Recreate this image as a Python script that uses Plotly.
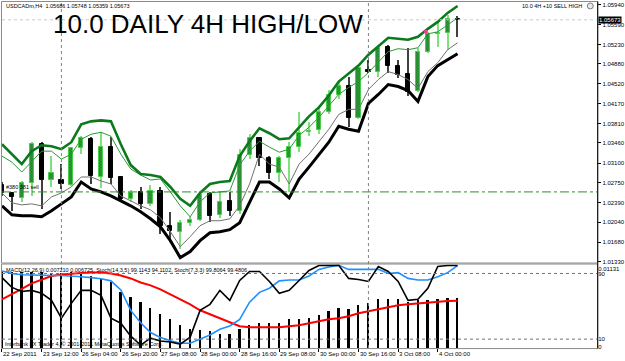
import plotly.graph_objects as go

# ---------------- data ----------------
tick_labels = ["22 Sep 2011", "23 Sep 12:00", "26 Sep 04:00", "26 Sep 20:00",
               "27 Sep 08:00", "28 Sep 00:00", "28 Sep 16:00", "29 Sep 08:00",
               "30 Sep 00:00", "30 Sep 16:00", "3 Oct 08:00", "4 Oct 00:00"]
tick_bars = [0, 4, 8, 12, 16, 20, 24, 28, 32, 36, 40, 44]

opens = [1.02706, 1.02563, 1.02474, 1.02742, 1.03438, 1.02795, 1.02795, 1.02706, 1.03367, 1.03528,
         1.02849, 1.03385, 1.02849, 1.02456, 1.02581, 1.02366, 1.02599, 1.01973, 1.01866, 1.02027,
         1.02080, 1.02545, 1.02170, 1.02420, 1.02241, 1.03242, 1.03546, 1.03188, 1.02920, 1.03188,
         1.03385, 1.03653, 1.03688, 1.04010, 1.04314, 1.04492, 1.03903, 1.04778, 1.04743, 1.05189,
         1.04850, 1.04707, 1.04403, 1.05100, 1.05422, 1.05439, 1.05686]
highs = [1.02759, 1.02581, 1.02777, 1.03474, 1.03474, 1.03224, 1.03081, 1.03385, 1.03581, 1.03563,
         1.03653, 1.03563, 1.02867, 1.02616, 1.02670, 1.02706, 1.02670, 1.02223, 1.02080, 1.02152,
         1.02599, 1.02581, 1.02581, 1.02581, 1.03349, 1.03617, 1.03563, 1.03224, 1.03224, 1.03474,
         1.04010, 1.03831, 1.04117, 1.04421, 1.04564, 1.04653, 1.04868, 1.04957, 1.05189, 1.05225,
         1.04957, 1.05171, 1.05171, 1.05457, 1.05636, 1.05761, 1.05748]
lows = [1.02509, 1.02241, 1.02402, 1.02509, 1.02277, 1.02670, 1.02634, 1.02688, 1.03260, 1.02724,
        1.02652, 1.02724, 1.02420, 1.02402, 1.02277, 1.02331, 1.01830, 1.01687, 1.01562, 1.01973,
        1.02063, 1.02045, 1.02116, 1.02152, 1.02188, 1.03170, 1.03045, 1.02813, 1.02759, 1.02581,
        1.03295, 1.03581, 1.03617, 1.03974, 1.04242, 1.03742, 1.03885, 1.04725, 1.04653, 1.04725,
        1.04635, 1.04296, 1.04385, 1.05082, 1.05189, 1.05136, 1.05359]
closes = [1.02563, 1.02491, 1.02742, 1.03438, 1.02795, 1.02920, 1.02724, 1.03367, 1.03546, 1.02867,
          1.03385, 1.02831, 1.02456, 1.02563, 1.02366, 1.02599, 1.01973, 1.01884, 1.02027, 1.02080,
          1.02527, 1.02152, 1.02402, 1.02241, 1.03242, 1.03546, 1.03188, 1.02920, 1.03188, 1.03385,
          1.03635, 1.03671, 1.04010, 1.04314, 1.04492, 1.03903, 1.04814, 1.04743, 1.05171, 1.04850,
          1.04689, 1.04385, 1.05100, 1.05422, 1.05439, 1.05690, 1.05673]

upper_env = [1.03438, 1.03260, 1.03081, 1.03313, 1.03420, 1.03403, 1.03349, 1.03474, 1.03796, 1.03849,
             1.03867, 1.03849, 1.03438, 1.03063, 1.02902, 1.02884, 1.02849, 1.02670, 1.02456, 1.02331,
             1.02563, 1.02724, 1.02759, 1.02777, 1.03224, 1.03492, 1.03724, 1.03635, 1.03528, 1.03545,
             1.03742, 1.03939, 1.04099, 1.04314, 1.04564, 1.04707, 1.04850, 1.05046, 1.05207, 1.05350,
             1.05332, 1.05314, 1.05368, 1.05511, 1.05636, 1.05797, 1.05922]
upper_mid = [1.03224, 1.03117, 1.02938, 1.03135, 1.03313, 1.03313, 1.03170, 1.03260, 1.03528, 1.03617,
             1.03653, 1.03581, 1.03260, 1.02992, 1.02884, 1.02795, 1.02813, 1.02581, 1.02331, 1.02134,
             1.02402, 1.02563, 1.02581, 1.02599, 1.03063, 1.03313, 1.03492, 1.03385, 1.03295, 1.03349,
             1.03599, 1.03742, 1.03921, 1.04135, 1.04332, 1.04457, 1.04564, 1.04725, 1.04921, 1.05100,
             1.05154, 1.05136, 1.05171, 1.05422, 1.05457, 1.05582, 1.05707]
lower_mid = [1.02563, 1.02384, 1.02348, 1.02366, 1.02331, 1.02491, 1.02563, 1.02670, 1.02849, 1.02849,
             1.02777, 1.02724, 1.02509, 1.02420, 1.02331, 1.02259, 1.02116, 1.01866, 1.01598, 1.01777,
             1.01973, 1.02063, 1.02063, 1.02098, 1.02331, 1.02724, 1.03260, 1.03081, 1.03027, 1.02724,
             1.03081, 1.03260, 1.03492, 1.03706, 1.03974, 1.04064, 1.04064, 1.04421, 1.04600, 1.04743,
             1.04689, 1.04600, 1.04439, 1.04743, 1.04903, 1.05136, 1.05261]
lower_env = [1.02331, 1.02170, 1.02152, 1.02152, 1.02134, 1.02241, 1.02366, 1.02491, 1.02759, 1.02634,
             1.02581, 1.02509, 1.02420, 1.02331, 1.02223, 1.02098, 1.01955, 1.01705, 1.01401, 1.01509,
             1.01705, 1.01848, 1.01866, 1.01902, 1.02027, 1.02402, 1.02759, 1.02759, 1.02634, 1.02473,
             1.02813, 1.03027, 1.03260, 1.03474, 1.03760, 1.03706, 1.03671, 1.04171, 1.04332, 1.04510,
             1.04475, 1.04403, 1.04207, 1.04653, 1.04850, 1.04957, 1.05064]

macd_hist = [0.01107, 0.01089, 0.01089, 0.01093, 0.01089, 0.01074, 0.01074, 0.01089, 0.01060, 0.01036,
             0.00990, 0.00947, 0.00810, 0.00735, 0.00664, 0.00580, 0.00495, 0.00414, 0.00339, 0.00283,
             0.00269, 0.00245, 0.00212, 0.00212, 0.00283, 0.00339, 0.00368, 0.00368, 0.00368, 0.00414,
             0.00424, 0.00438, 0.00471, 0.00527, 0.00580, 0.00566, 0.00612, 0.00650, 0.00707, 0.00707,
             0.00707, 0.00664, 0.00683, 0.00697, 0.00707, 0.00717, 0.00721]
macd_signal = [0.00693, 0.00763, 0.00841, 0.00919, 0.00975, 0.01025, 0.01046, 0.01060, 0.01067, 0.01074,
               0.01074, 0.01060, 0.01032, 0.00990, 0.00933, 0.00891, 0.00834, 0.00763, 0.00693, 0.00622,
               0.00537, 0.00481, 0.00424, 0.00368, 0.00311, 0.00297, 0.00297, 0.00297, 0.00297, 0.00311,
               0.00325, 0.00353, 0.00382, 0.00410, 0.00424, 0.00452, 0.00495, 0.00523, 0.00551, 0.00580,
               0.00608, 0.00622, 0.00636, 0.00650, 0.00664, 0.00668, 0.006725]
stoch_black = [85, 73, 68, 69.4, 65.8, 57.3, 35.5, 53.6, 69.4, 69.4,
               63.3, 35.5, 29.4, 13.6, 2.7, 11.2, 7.6, 6.4, 3.9, 12.4,
               45, 52.4, 69.4, 57.3, 81.5, 92.4, 92.4, 80.3, 65.8, 69.4,
               81.5, 93.6, 99.7, 100, 100, 84, 82.7, 80.3, 98.5, 92.4,
               80.3, 57.3, 58.5, 71.8, 98.5, 99.8, 99.8]
stoch_blue = [93, 90, 88.5, 88, 88, 87.5, 87.5, 87, 86, 85,
              83.5, 81, 70, 45, 30, 18, 12, 8, 5, 5,
              10, 15, 22, 26, 34, 55, 67, 72, 81, 82,
              82, 87, 95, 98, 100, 95, 95, 95, 95, 90,
              91, 84, 82, 82, 86, 91, 99.5]

price_ticks = [1.05940, 1.05590, 1.05230, 1.04880, 1.04520, 1.04170, 1.03810,
               1.03460, 1.03100, 1.02750, 1.02390, 1.02040, 1.01680, 1.01330]
order_price = 1.02581
bid_price = 1.05673
separator_bars = [6, 37]
signal_bar, signal_price = 42.8, 1.05457
stoch_levels = [90, 10]
macd_top_label = 0.01131

header_text = "USDCADm,H4  1.05686 1.05748 1.05359 1.05673"
title_text = "10.0 DAILY 4H HIGH/LOW"
ea_text = "10.0 4H +10 SELL HIGH"
order_text = "#380 381 sell"
ind_text = ("MACD(12,26,9) 0.007210 0.006725, Stoch(14,3,5) 99.1143 94.1102, "
            "Stoch(7,3,3) 99.8064 99.4806")
copy_text = "Interbank FX Trader 4, \u00a9 2001-2011 MetaQuotes Software Corp."

# ---------------- geometry helpers ----------------
W, H = 625, 361
def px(x):
    return x / W
def py(y):
    return 1 - y / H

FONT = "Liberation Sans, Arial, sans-serif"
n = len(opens)
xs = list(range(n))

bull = [i for i in xs if closes[i] >= opens[i]]
bear = [i for i in xs if closes[i] < opens[i]]

fig = go.Figure()

# wicks
fig.add_trace(go.Bar(
    x=xs, y=[highs[i] - lows[i] for i in xs], base=lows, width=0.12,
    marker=dict(color=["#7ee07e" if closes[i] >= opens[i] else "#404040" for i in xs],
                line=dict(width=0)),
    xaxis="x", yaxis="y", hoverinfo="skip"))
# bull bodies
fig.add_trace(go.Bar(
    x=bull, y=[closes[i] - opens[i] for i in bull], base=[opens[i] for i in bull], width=0.42,
    marker=dict(color="#1f7f2b", line=dict(color="#44d044", width=1),
                pattern=dict(shape="x", fgcolor="#62d862", size=2, solidity=0.5)),
    xaxis="x", yaxis="y", hoverinfo="skip"))
# bear bodies
fig.add_trace(go.Bar(
    x=bear, y=[opens[i] - closes[i] for i in bear], base=[closes[i] for i in bear], width=0.42,
    marker=dict(color="#000000", line=dict(color="#000000", width=1)),
    xaxis="x", yaxis="y", hoverinfo="skip"))

# envelope lines
fig.add_trace(go.Scatter(x=xs, y=lower_mid, mode="lines", line=dict(color="#707070", width=1),
                         xaxis="x", yaxis="y", hoverinfo="skip"))
fig.add_trace(go.Scatter(x=xs, y=upper_mid, mode="lines", line=dict(color="#2a9a35", width=1),
                         xaxis="x", yaxis="y", hoverinfo="skip"))
fig.add_trace(go.Scatter(x=xs, y=upper_env, mode="lines", line=dict(color="#0b7a1c", width=2.6),
                         xaxis="x", yaxis="y", hoverinfo="skip"))
fig.add_trace(go.Scatter(x=xs, y=lower_env, mode="lines", line=dict(color="#000000", width=3),
                         xaxis="x", yaxis="y", hoverinfo="skip"))
fig.add_trace(go.Scatter(x=[signal_bar], y=[signal_price], mode="markers",
                         marker=dict(color="#ff3399", size=4), xaxis="x", yaxis="y", hoverinfo="skip"))

# indicator window
fig.add_trace(go.Bar(x=xs, y=macd_hist, width=0.18, marker=dict(color="#000000", line=dict(width=0)),
                     xaxis="x2", yaxis="y2", hoverinfo="skip"))
fig.add_trace(go.Scatter(x=xs, y=macd_signal, mode="lines", line=dict(color="#ff0000", width=2),
                         xaxis="x2", yaxis="y2", hoverinfo="skip"))
fig.add_trace(go.Scatter(x=xs, y=stoch_blue, mode="lines", line=dict(color="#1e90ff", width=1.6),
                         xaxis="x2", yaxis="y3", hoverinfo="skip"))
fig.add_trace(go.Scatter(x=xs, y=stoch_black, mode="lines", line=dict(color="#000000", width=1.6),
                         xaxis="x2", yaxis="y3", hoverinfo="skip"))

xdom = [px(2), px(603)]
xrange = [0, 60.1]
price_lo = 1.06029 - 0.00017867 * 264
price_hi = 1.06029 - 0.00017867 * 2

tickfont = dict(family=FONT, size=6, color="#000000")

fig.update_layout(
    width=W, height=H, margin=dict(l=0, r=0, t=0, b=0),
    paper_bgcolor="white", plot_bgcolor="white", showlegend=False,
    barmode="overlay", bargap=0,
    xaxis=dict(domain=xdom, range=xrange, anchor="y", showticklabels=False, showgrid=False,
               zeroline=False, ticks=""),
    yaxis=dict(domain=[py(264), py(2)], range=[price_lo, price_hi], side="right", anchor="x",
               tickvals=price_ticks, ticktext=[f"{v:.5f}" for v in price_ticks],
               ticks="outside", ticklen=3, tickcolor="#000000", tickfont=tickfont,
               showgrid=False, zeroline=False),
    xaxis2=dict(domain=xdom, range=xrange, anchor="y2", tickvals=tick_bars,
                ticktext=["" for _ in tick_bars], ticks="outside", ticklen=3,
                tickcolor="#000000", showgrid=False, zeroline=False),
    yaxis2=dict(domain=[py(350), py(265)], range=[0, 0.012017], side="right", anchor="x2",
                tickvals=[macd_top_label], ticktext=[f"{macd_top_label:.5f}"],
                ticks="", tickfont=tickfont, showgrid=False, zeroline=False),
    yaxis3=dict(domain=[py(350), py(265)], range=[-0.91, 102.12], side="right", anchor="x2",
                overlaying="y2", tickvals=[90, 10, 0], ticktext=["90", "10", "0"],
                ticks="", tickfont=tickfont, showgrid=False, zeroline=False),
)

shapes = []
# panel frames
shapes.append(dict(type="rect", xref="paper", yref="paper", x0=px(1.5), x1=px(603.5),
                   y0=py(264.5), y1=py(1.5), line=dict(color="#8a8a8a", width=1)))
shapes.append(dict(type="rect", xref="paper", yref="paper", x0=px(1.5), x1=px(603.5),
                   y0=py(350.5), y1=py(265.5), line=dict(color="#8a8a8a", width=1)))
shapes.append(dict(type="line", xref="paper", yref="paper", x0=px(603.5), x1=px(603.5),
                   y0=py(350.5), y1=py(1.5), line=dict(color="#000000", width=1)))
# bid line
shapes.append(dict(type="line", xref="paper", yref="y", x0=xdom[0], x1=xdom[1],
                   y0=bid_price, y1=bid_price, line=dict(color="#c8c8c8", width=1, dash="dot")))
# order line
shapes.append(dict(type="line", xref="paper", yref="y", x0=xdom[0], x1=xdom[1],
                   y0=order_price, y1=order_price, line=dict(color="#2f8f2f", width=1, dash="dashdot")))
# period separators
for b in separator_bars:
    shapes.append(dict(type="line", xref="x", yref="paper", x0=b, x1=b, y0=py(350), y1=py(2),
                       line=dict(color="#808080", width=1, dash="dot")))
# stoch levels
for lv in stoch_levels:
    shapes.append(dict(type="line", xref="paper", yref="y3", x0=xdom[0], x1=xdom[1],
                       y0=lv, y1=lv, line=dict(color="#707080", width=1, dash="dot")))
# small icon top right
shapes.append(dict(type="circle", xref="paper", yref="paper", x0=px(593), x1=px(599),
                   y0=py(9), y1=py(3), line=dict(color="#808080", width=1), fillcolor="#e8e8e8"))
fig.update_layout(shapes=shapes)

ann = []
ann.append(dict(xref="paper", yref="paper", x=px(4), y=py(6), text=header_text, showarrow=False,
                xanchor="left", yanchor="middle", font=dict(family=FONT, size=5.5, color="#000000")))
ann.append(dict(xref="paper", yref="paper", x=px(51), y=py(24), text=title_text, showarrow=False,
                xanchor="left", yanchor="middle", font=dict(family=FONT, size=26, color="#000000")))
ann.append(dict(xref="paper", yref="paper", x=px(590), y=py(6), text=ea_text, showarrow=False,
                xanchor="right", yanchor="middle", font=dict(family=FONT, size=5.5, color="#000000")))
ann.append(dict(xref="paper", yref="y", x=px(4), y=order_price, yshift=5, text=order_text,
                showarrow=False, xanchor="left", yanchor="middle",
                font=dict(family=FONT, size=5.5, color="#000000")))
ann.append(dict(xref="paper", yref="paper", x=px(4), y=py(272), text=ind_text, showarrow=False,
                xanchor="left", yanchor="middle", font=dict(family=FONT, size=5.5, color="#000000")))
ann.append(dict(xref="paper", yref="paper", x=px(3), y=py(346), text=copy_text, showarrow=False,
                xanchor="left", yanchor="middle", font=dict(family=FONT, size=5.5, color="#000000")))
ann.append(dict(xref="paper", yref="y", x=px(604), y=bid_price, text=f"{bid_price:.5f}",
                showarrow=False, xanchor="left", yanchor="middle", bgcolor="#000000",
                borderpad=0, font=dict(family=FONT, size=6, color="#ffffff")))
for b, lab in zip(tick_bars, tick_labels):
    ann.append(dict(xref="x2", yref="paper", x=b, y=py(356), text=lab, showarrow=False,
                    xanchor="left", yanchor="middle", xshift=-1,
                    font=dict(family=FONT, size=6, color="#000000")))
fig.update_layout(annotations=ann)

fig.write_html("out.html")
